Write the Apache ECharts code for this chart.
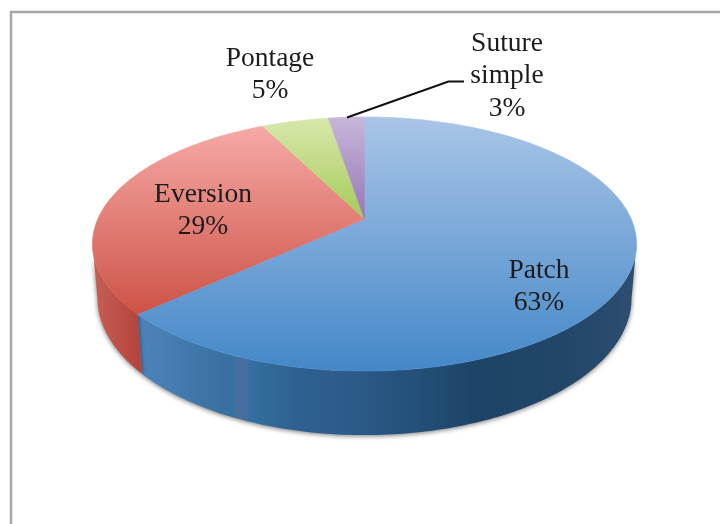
<!DOCTYPE html>
<html lang="en">
<head>
    <meta charset="UTF-8">
    <title>Pie</title>
    <style>
        html, body { margin: 0; padding: 0; background: #fff; }
        #main { width: 720px; height: 524px; }
    </style>
</head>
<body>
    <div id="main"></div>
    <script src="https://cdn.jsdelivr.net/npm/echarts@6/dist/echarts.min.js"></script>
    <script>
        const categories = ['Patch', 'Eversion', 'Pontage', 'Suture\nsimple'];
        const values = [63.2, 29.4, 4.8, 2.6];

        // layout of the tilted disc, same perspective as the original 3d pie
        const cx = 364.5, apexY = 219, farB = 79, persp = 0.197, halfW = 266.7;
        const topCy = 244, topRy = 127, topRx = 272;
        const botCy = 298, botRy = 137, botRx = 267;
        const wallFrom = 101.4, wallTo = 258.6;

        const labelPos = [[539, 287], [203, 211], [270, 75], [507, 76]];

        const topColors = [
            ['#a9c5e7', '#4488c8'],
            ['#f6a9a6', '#cd5347'],
            ['#d8e8ab', '#a5ca5a'],
            ['#c8b6da', '#9676b6']
        ];
        const wallStops = [
            [
                [140, '#4c83ba'], [200, '#3f76a9'], [232, '#36709f'], [236, '#466f9f'],
                [246, '#466f9f'], [250, '#33709f'], [300, '#2e6090'], [360, '#2b5a87'],
                [420, '#234f78'], [480, '#1d4366'], [540, '#1f4568'], [600, '#27496b'],
                [634, '#2e4f6e']
            ],
            [[97, '#c55d52'], [143, '#b4423a']]
        ];

        const total = values.reduce((a, b) => a + b, 0);
        const starts = [];
        values.reduce((acc, v, i) => {
            starts[i] = acc / total * 360;
            return acc + v;
        }, 0);

        function rimTop(deg) {
            const t = deg * Math.PI / 180;
            const c = Math.cos(t), s = Math.sin(t);
            const d = 1 + persp * c;
            return [cx + halfW * s / d, (apexY - farB * c) / d];
        }

        function rimBottom(deg) {
            const p = rimTop(deg);
            return [
                cx + (p[0] - cx) * botRx / topRx,
                botCy + (p[1] - topCy) * botRy / topRy
            ];
        }

        function sample(fn, from, to) {
            const pts = [];
            const n = Math.max(2, Math.ceil(Math.abs(to - from)));
            for (let i = 0; i <= n; i++) {
                pts.push(fn(from + (to - from) * i / n));
            }
            return pts;
        }

        function renderItem(params, api) {
            const i = params.dataIndex;
            const value = api.value(0);
            const a0 = starts[i];
            const a1 = a0 + value / total * 360;
            const children = [];

            // side wall, only the part facing the viewer
            const w0 = Math.max(a0, wallFrom), w1 = Math.min(a1, wallTo);
            if (w1 > w0) {
                const wall = sample(rimTop, w0, w1).concat(sample(rimBottom, w1, w0));
                const stops = wallStops[i];
                const x0 = stops[0][0], x1 = stops[stops.length - 1][0];
                children.push({
                    type: 'polygon',
                    z2: 1,
                    shape: { points: wall },
                    style: {
                        fill: new echarts.graphic.LinearGradient(x0, 0, x1, 0,
                            stops.map(s => ({ offset: (s[0] - x0) / (x1 - x0), color: s[1] })), true),
                        shadowBlur: 5,
                        shadowOffsetY: 1,
                        shadowColor: 'rgba(0,0,0,0.55)'
                    }
                });
            }

            // top face
            const rim = sample(rimTop, a0, a1);
            const ys = rim.map(p => p[1]).concat(apexY);
            const topFill = new echarts.graphic.LinearGradient(0, Math.min(...ys), 0, Math.max(...ys), [
                { offset: 0, color: topColors[i][0] },
                { offset: 1, color: topColors[i][1] }
            ], true);
            children.push({
                type: 'polygon',
                z2: 2,
                shape: { points: [[cx, apexY]].concat(rim) },
                style: { fill: topFill, stroke: topFill, lineWidth: 0.6 }
            });

            const pct = Math.round(value / total * 100) + '%';
            children.push({
                type: 'text',
                z2: 4,
                style: {
                    x: labelPos[i][0],
                    y: labelPos[i][1],
                    text: categories[i] + '\n' + pct,
                    fill: '#1c1c1c',
                    font: '27.5px "Liberation Serif"',
                    lineHeight: 32.5,
                    align: 'center',
                    verticalAlign: 'middle'
                }
            });
            return { type: 'group', children: children };
        }

        const myChart = echarts.init(document.getElementById('main'));
        myChart.setOption({
            animation: false,
            backgroundColor: '#fff',
            graphic: [
                {
                    type: 'polyline',
                    silent: true,
                    shape: { points: [[11, 524], [11, 12], [720, 12]] },
                    style: { stroke: '#a6a6a6', lineWidth: 2.5, fill: 'none' }
                },
                {
                    type: 'polyline',
                    silent: true,
                    z: 10,
                    shape: { points: [[347, 117.5], [448.5, 81.5], [464, 81.5]] },
                    style: { stroke: '#111', lineWidth: 2, fill: 'none' }
                }
            ],
            series: [{
                type: 'custom',
                coordinateSystem: 'none',
                renderItem: renderItem,
                data: values.map((v, i) => ({ name: categories[i], value: [v] }))
            }]
        });
    </script>
</body>
</html>
